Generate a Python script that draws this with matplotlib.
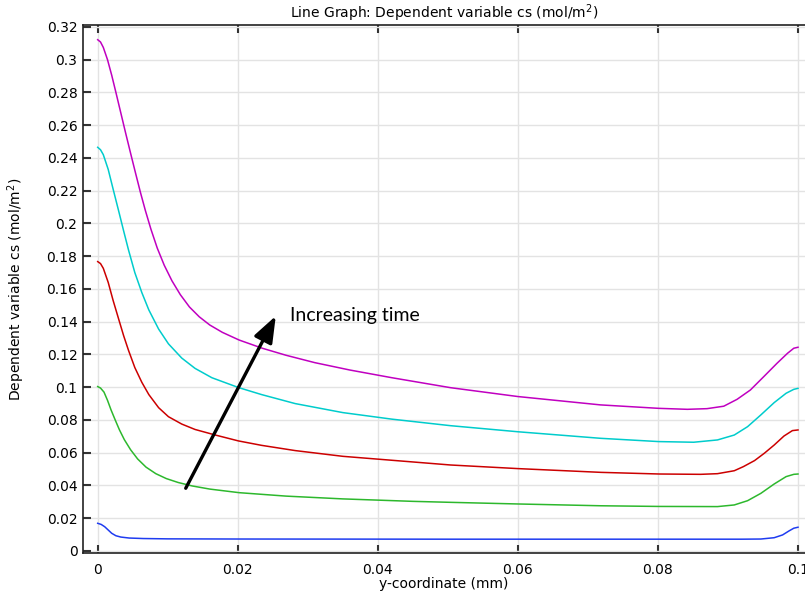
import matplotlib
matplotlib.use("Agg")
import matplotlib.pyplot as plt

# data (x in mm, cs in mol/m^2), one curve per time step
x_t1 = [0.0, 0.0005, 0.0010, 0.0015, 0.0020, 0.0026, 0.0033, 0.0045, 0.0065, 0.0100, 0.0200, 0.0500,
        0.0800, 0.0920, 0.0947, 0.0966, 0.0978, 0.0987, 0.0994, 0.1]
cs_t1 = [0.0169, 0.0162, 0.0148, 0.0128, 0.0108, 0.0093, 0.0085, 0.0079, 0.0076, 0.0074, 0.0073, 0.0072,
         0.0072, 0.0072, 0.0073, 0.0081, 0.0098, 0.0122, 0.0139, 0.0145]

x_t2 = [0.0, 0.0004, 0.0009, 0.0014, 0.0019, 0.0025, 0.0031, 0.0038, 0.0047, 0.0057, 0.0069, 0.0083,
        0.0098, 0.0115, 0.0135, 0.0160, 0.0202, 0.0269, 0.0350, 0.0450, 0.0504, 0.0600, 0.0719, 0.0801,
        0.0885, 0.0909, 0.0928, 0.0947, 0.0966, 0.0983, 0.0994, 0.1]
cs_t2 = [0.1004, 0.0995, 0.0970, 0.0920, 0.0862, 0.0800, 0.0740, 0.0680, 0.0618, 0.0562, 0.0512, 0.0472,
         0.0442, 0.0418, 0.0397, 0.0378, 0.0356, 0.0335, 0.0318, 0.0303, 0.0297, 0.0287, 0.0276, 0.0272,
         0.0271, 0.0281, 0.0307, 0.0352, 0.0409, 0.0454, 0.0468, 0.0470]

x_t3 = [0.0, 0.0004, 0.0008, 0.0015, 0.0022, 0.0030, 0.0037, 0.0044, 0.0053, 0.0063, 0.0073, 0.0087,
        0.0101, 0.0120, 0.0139, 0.0168, 0.0201, 0.0234, 0.0282, 0.0350, 0.0504, 0.0600, 0.0719, 0.0802,
        0.0861, 0.0885, 0.0909, 0.0922, 0.0938, 0.0952, 0.0966, 0.0980, 0.0992, 0.1]
cs_t3 = [0.1767, 0.1755, 0.1726, 0.1640, 0.1530, 0.1415, 0.1315, 0.1225, 0.1120, 0.1030, 0.0955, 0.0875,
         0.0820, 0.0775, 0.0742, 0.0708, 0.0672, 0.0645, 0.0613, 0.0578, 0.0525, 0.0503, 0.0480, 0.0470,
         0.0468, 0.0472, 0.0490, 0.0515, 0.0552, 0.0597, 0.0647, 0.0702, 0.0735, 0.0739]

x_t4 = [0.0, 0.0004, 0.0008, 0.0015, 0.0022, 0.0030, 0.0037, 0.0044, 0.0053, 0.0063, 0.0073, 0.0087,
        0.0101, 0.0120, 0.0139, 0.0163, 0.0201, 0.0234, 0.0282, 0.0350, 0.0420, 0.0504, 0.0600, 0.0718,
        0.0801, 0.0851, 0.0885, 0.0909, 0.0928, 0.0947, 0.0966, 0.0983, 0.0994, 0.1]
cs_t4 = [0.2465, 0.2450, 0.2420, 0.2330, 0.2210, 0.2075, 0.1955, 0.1838, 0.1700, 0.1578, 0.1472, 0.1355,
         0.1265, 0.1178, 0.1115, 0.1058, 0.0998, 0.0955, 0.0900, 0.0845, 0.0805, 0.0765, 0.0728, 0.0688,
         0.0668, 0.0664, 0.0678, 0.0708, 0.0759, 0.0831, 0.0906, 0.0963, 0.0987, 0.0993]

x_t5 = [0.0, 0.0004, 0.0008, 0.0014, 0.0020, 0.0026, 0.0033, 0.0040, 0.0047, 0.0054, 0.0061, 0.0068,
        0.0076, 0.0085, 0.0095, 0.0106, 0.0118, 0.0131, 0.0145, 0.0160, 0.0178, 0.0202, 0.0235, 0.0269,
        0.0310, 0.0360, 0.0420, 0.0504, 0.0600, 0.0718, 0.0801, 0.0842, 0.0870, 0.0894, 0.0913, 0.0932,
        0.0951, 0.0970, 0.0985, 0.0994, 0.1]
cs_t5 = [0.3122, 0.3108, 0.3075, 0.3000, 0.2905, 0.2800, 0.2675, 0.2550, 0.2428, 0.2308, 0.2190, 0.2080,
         0.1965, 0.1850, 0.1745, 0.1650, 0.1565, 0.1490, 0.1430, 0.1380, 0.1335, 0.1288, 0.1238, 0.1195,
         0.1150, 0.1105, 0.1058, 0.0997, 0.0943, 0.0892, 0.0871, 0.0865, 0.0869, 0.0884, 0.0926, 0.0983,
         0.1064, 0.1146, 0.1207, 0.1238, 0.1244]

series = [
    (x_t1, cs_t1, "#1f3cf0"),
    (x_t2, cs_t2, "#2db82d"),
    (x_t3, cs_t3, "#cc0000"),
    (x_t4, cs_t4, "#00cccc"),
    (x_t5, cs_t5, "#c000c0"),
]

arrow_tail = (0.01257, 0.0383)
arrow_head = (0.02543, 0.1435)

fig = plt.figure(figsize=(8.05, 5.93), dpi=100)
ax = fig.add_axes([0.1031, 0.0675, 0.8969, 0.8904])

for xs, ys, c in series:
    ax.plot(xs, ys, color=c, lw=1.1)

ax.set_xlim(-0.0021, 0.1010)
ax.set_ylim(-0.00122, 0.3212)
ax.set_xticks([0, 0.02, 0.04, 0.06, 0.08, 0.1])
ax.set_xticklabels(["0", "0.02", "0.04", "0.06", "0.08", "0.1"])
yt = [i * 0.02 for i in range(17)]
ax.set_yticks(yt)
ax.set_yticklabels(["0"] + ["%g" % round(v, 2) for v in yt[1:]])

ax.grid(True, color="#e3e3e3", lw=1)
ax.set_axisbelow(True)
ax.spines["right"].set_visible(False)
for s in ["left", "top", "bottom"]:
    ax.spines[s].set_color("#222222")
    ax.spines[s].set_linewidth(1.2)
ax.tick_params(axis="both", direction="in", length=6, width=1.5, color="#333333",
               labelsize=10, top=True, right=False)
ax.tick_params(axis="x", pad=7)
ax.tick_params(axis="y", pad=4)

ax.set_xlabel("y-coordinate (mm)", fontsize=10, labelpad=0)
ax.set_ylabel("Dependent variable cs (mol/m$^2$)", fontsize=10, labelpad=14)
ax.set_title("Line Graph: Dependent variable cs (mol/m$^2$)", fontsize=10, pad=5)

ax.annotate("", xy=arrow_head, xytext=arrow_tail,
            arrowprops=dict(arrowstyle="-|>,head_length=1.6,head_width=0.6",
                            color="black", lw=2.4, shrinkA=0, shrinkB=0))
ax.text(0.0274, 0.1435, "Increasing time", fontsize=14, family="Lato", va="center", ha="left")

fig.savefig("out.png", dpi=100)
